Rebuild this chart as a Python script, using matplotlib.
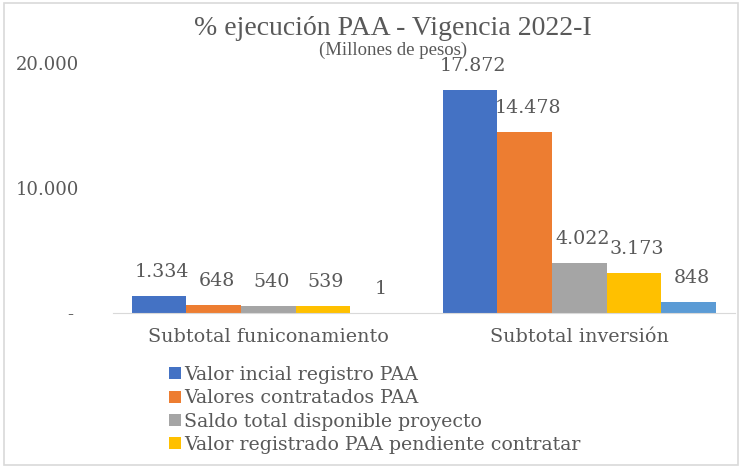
import numpy as np
import matplotlib.pyplot as plt
from matplotlib.patches import Rectangle

plt.rcParams['font.family'] = ['DejaVu Serif']

categories = ['Subtotal funiconamiento', 'Subtotal inversión']
series = ['Valor incial registro PAA', 'Valores contratados PAA',
          'Saldo total disponible proyecto', 'Valor registrado PAA pendiente contratar', '']
values = [[1334, 17872],
          [648, 14478],
          [540, 4022],
          [539, 3173],
          [1, 848]]
colors = ['#4472C4', '#ED7D31', '#A5A5A5', '#FFC000', '#5B9BD5']
yticks = [0, 10000, 20000]
ytick_labels = ['- ', '10.000', '20.000']

txt = '#595959'
fig = plt.figure(figsize=(7.42, 4.68), dpi=100)
fig.patches.append(Rectangle((0.006, 0.006), 0.988, 0.988, transform=fig.transFigure,
                             fill=False, edgecolor='#D9D9D9', linewidth=1.2))
ax = fig.add_axes([0.152, 0.331, 0.8385, 0.534])

x = np.arange(len(categories))
w = 0.1756
handles = []
for i, (vals, c) in enumerate(zip(values, colors)):
    pos = x + (i - 2) * w
    b = ax.bar(pos, vals, w, color=c, label=series[i])
    if i < 4:
        handles.append(b)
    for px, v in zip(pos, vals):
        lab = f'{v:,}'.replace(',', '.')
        ax.annotate(lab, (px, v), xytext=(3, 24), textcoords='offset pixels',
                    ha='center', va='center', fontsize=13.7, color=txt, annotation_clip=False)

ax.set_xlim(-0.5, 1.5)
ax.set_ylim(0, 20000)
ax.set_yticks(yticks)
ax.set_yticklabels(ytick_labels)
ax.set_xticks(x)
ax.set_xticklabels(categories)
ax.tick_params(axis='y', length=0, pad=24, labelsize=13, labelcolor=txt)
ax.tick_params(axis='x', length=0, pad=11, labelsize=13.8, labelcolor=txt)
for s in ['top', 'right', 'left']:
    ax.spines[s].set_visible(False)
ax.spines['bottom'].set_color('#D9D9D9')

fig.text(0.53, 0.94, '% ejecución PAA - Vigencia 2022-I', ha='center', va='center',
         fontsize=20, color=txt, family='Liberation Serif')
fig.text(0.53, 0.893, '(Millones de pesos)', ha='center', va='center', fontsize=13.5,
         color=txt, family='Liberation Serif')

fig.legend(handles=handles, loc='upper left', bbox_to_anchor=(0.228, 0.218),
           frameon=False, fontsize=13.6, labelcolor=txt, handlelength=0.6, handleheight=0.6,
           handletextpad=0.2, labelspacing=0.28, borderpad=0, borderaxespad=0)

fig.savefig('out.png', dpi=100)
